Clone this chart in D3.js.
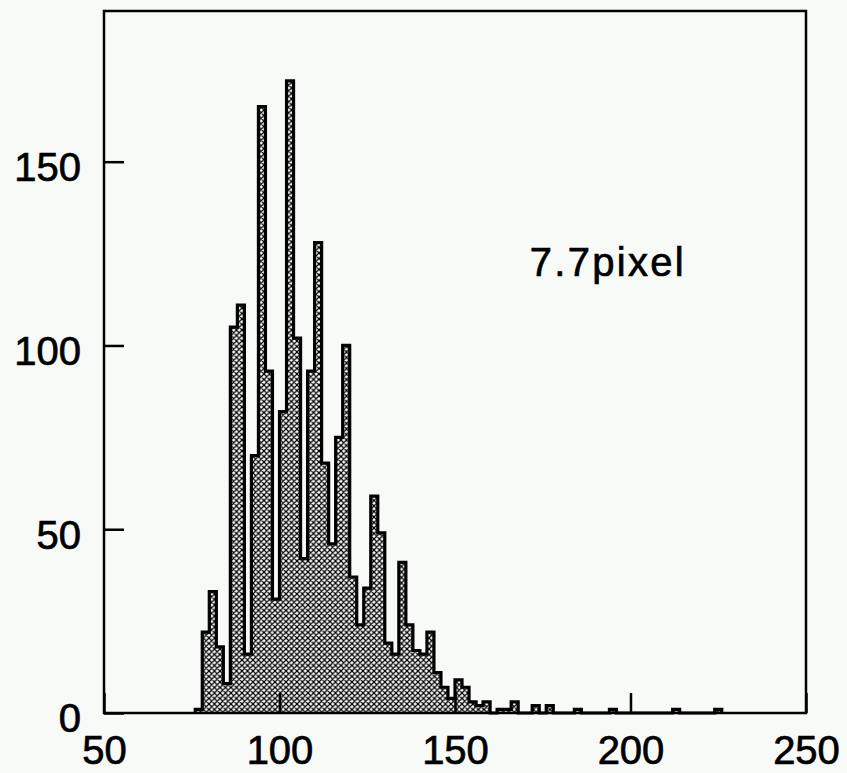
<!DOCTYPE html>
<html><head><meta charset="utf-8">
<script src="https://cdn.jsdelivr.net/npm/d3@7"></script>
<style>html,body{margin:0;padding:0;background:#f8faf8} svg{display:block}</style>
</head><body>
<script>
// Histogram data: lower edge of each bin (bin width 2) and its count
const binLow = [76,78,80,82,84,86,88,90,92,94,96,98,100,102,104,106,108,110,112,114,116,118,120,122,124,126,128,130,132,134,136,138,140,142,144,146,148,150,152,154,156,158,160,162,164,166,168,170,172,174,176,184,194,212,224];
const counts = [1,22,33,18,8,105,111,16,70,165,93,31,82,172,102,42,93,128,68,46,75,100,37,24,34,59,49,19,16,41,24,17,16,22,11,7,4,9,7,3,2,3,0,1,1,3,0,0,2,0,2,1,1,1,1];
const binWidth = 2;
const xTicks = [50,100,150,200,250];
const yTicks = [0,50,100,150];
const xDomain = [50,250];
const yDomain = [0,191];
const labelText = "7.7pixel";

const W = 847, H = 773;
const L = 104, R = 806, T = 11, B = 713;
const x = d3.scaleLinear().domain(xDomain).range([L, R]);
const y = d3.scaleLinear().domain(yDomain).range([B, T]);

const svg = d3.select("body").append("svg").attr("width", W).attr("height", H);
svg.append("rect").attr("width", W).attr("height", H).attr("fill", "#f8faf8");

const defs = svg.append("defs");
const pat = defs.append("pattern").attr("id","hatch").attr("patternUnits","userSpaceOnUse")
  .attr("width",5.5).attr("height",5.5);
pat.append("rect").attr("width",5.5).attr("height",5.5).attr("fill","#f8faf8");
pat.append("path").attr("d","M0,0L5.5,5.5M5.5,0L0,5.5M-1,4.5L1,6.5M4.5,-1L6.5,1M-1,1L1,-1M4.5,6.5L6.5,4.5")
  .attr("stroke","#000").attr("stroke-width",1.25);

// build step outline
const pts = [];
pts.push([binLow[0], 0]);
binLow.forEach((lo, i) => {
  const c = counts[i];
  pts.push([lo, c]);
  pts.push([lo + binWidth, c]);
  const next = binLow[i+1];
  if (next === undefined || next !== lo + binWidth) {
    pts.push([lo + binWidth, 0]);
    if (next !== undefined) pts.push([next, 0]);
  }
});
const line = d3.line().x(d => x(d[0])).y(d => y(d[1]));
svg.append("path").attr("d", line(pts) + "Z").attr("fill","url(#hatch)").attr("stroke","none");
svg.append("path").attr("d", line(pts)).attr("fill","none").attr("stroke","#000")
  .attr("stroke-width",3.2).attr("stroke-linejoin","miter");

// axes
const fontFam = "'Liberation Sans', Arial, Helvetica, sans-serif";
const xAxis = svg.append("g").attr("transform",`translate(0,${B})`)
  .call(d3.axisBottom(x).tickValues(xTicks).tickSizeInner(-20).tickSizeOuter(0).tickPadding(23).tickFormat(d3.format("d")));
const yAxis = svg.append("g").attr("transform",`translate(${L},0)`)
  .call(d3.axisLeft(y).tickValues(yTicks).tickSizeInner(-20).tickSizeOuter(0).tickPadding(23).tickFormat(d3.format("d")));
[xAxis, yAxis].forEach(g => {
  g.select(".domain").remove();
  g.selectAll(".tick line").attr("stroke","#000").attr("stroke-width",2.5);
  g.selectAll("text").attr("fill","#000").attr("stroke","#000").attr("stroke-width",0.7)
    .style("font-family",fontFam).style("font-size","40px");
});
yAxis.selectAll("text").attr("dy","0.47em");

// frame
svg.append("rect").attr("x",L).attr("y",T).attr("width",R-L).attr("height",B-T)
  .attr("fill","none").attr("stroke","#000").attr("stroke-width",2.5);

svg.append("text").attr("x", x(171.3)).attr("y", y(119))
  .style("font-family",fontFam).style("font-size","40px").style("letter-spacing","2.3px")
  .attr("fill","#000").attr("stroke","#000").attr("stroke-width",0.7).text(labelText);
</script>
</body></html>
